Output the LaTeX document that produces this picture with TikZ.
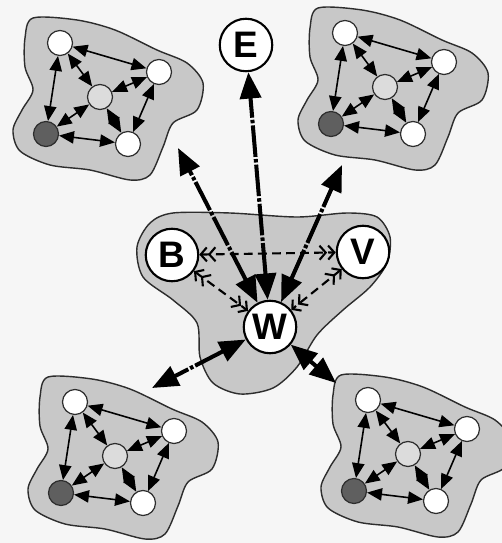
\documentclass[tikz,border=0pt]{standalone}
\usepackage{fontspec}
\setsansfont{Liberation Sans}
\usetikzlibrary{arrows.meta}
\definecolor{paper}{RGB}{246,246,246}
\definecolor{blobgray}{RGB}{200,200,200}
\definecolor{hubgray}{RGB}{220,220,220}
\definecolor{homegray}{RGB}{95,95,95}
\definecolor{inkgray}{RGB}{45,45,45}
\tikzset{
  blob/.style={draw=inkgray, fill=blobgray, line width=0.8pt},
  site/.style={circle, draw=inkgray, fill=white, line width=0.7pt, minimum size=0.5cm, inner sep=0pt},
  hubsite/.style={site, fill=hubgray},
  homesite/.style={site, fill=homegray},
  agent/.style={circle, draw=black, fill=white, line width=1.2pt, minimum size=1.05cm, inner sep=0pt,
    font=\fontsize{21}{21}\selectfont\sffamily\bfseries},
  link/.style={{Triangle[length=8.5pt,width=7pt]}-{Triangle[length=8.5pt,width=7pt]}, line width=0.9pt},
  bigcall/.style={{Triangle[length=15pt,width=12pt]}-{Triangle[length=15pt,width=12pt]}, line width=2.3pt,
    dash pattern=on 18pt off 1.2pt on 2pt off 1.2pt},
  peer/.style={{Straight Barb[length=3.5pt,width=8pt] Straight Barb[length=3.5pt,width=8pt]}-{Straight Barb[length=3.5pt,width=8pt] Straight Barb[length=3.5pt,width=8pt]},
    line width=1.2pt, dash pattern=on 5pt off 3pt}
}
\begin{document}
\begin{tikzpicture}[x=0.02cm, y=-0.02cm]
  \fill[paper] (0,0) rectangle (502,543);
  \useasboundingbox (0,0) rectangle (502,543);

  % the four outer clusters
  \foreach \n/\x/\y/\px/\py in {a/60/43/118/105, b/345/33/-3/132, c/75/402/77/-14, d/368/400/-32/-17} {
    \begin{scope}[shift={(\x,\y)}]
      \draw[blob] plot[smooth cycle] coordinates {(-27,-25) (17,-23) (55,-13) (97,7) (127,20) (143,40) (137,67)
        (113,80) (103,104) (90,132) (70,137) (30,127) (-10,122) (-40,108) (-47,87) (-38,67) (-27,47) (-35,24) (-35,-5)};
      \node[site] (\n-top) at (0,0) {};
      \node[site] (\n-right) at (99,29) {};
      \node[hubsite] (\n-hub) at (40,54) {};
      \node[homesite] (\n-home) at (-14,91) {};
      \node[site] (\n-low) at (68,101) {};
      \coordinate (\n-port) at (\px,\py);
    \end{scope}
    \foreach \s/\t in {top/right, top/hub, top/home, right/hub, right/low, hub/home, hub/low, home/low}
      \draw[link] (\n-\s) -- (\n-\t);
  }

  % central group
  \draw[blob] plot[smooth cycle] coordinates {(137,247) (150,223) (173,213) (230,213) (297,217) (347,213) (377,217)
    (390,237) (387,263) (370,287) (343,310) (317,335) (297,367) (273,388) (240,394) (213,383) (200,357)
    (197,323) (173,300) (143,277)};
  \node[agent] (B) at (172,255) {B};
  \node[agent] (V) at (363,252) {V};
  \node[agent] (W) at (270,327) {W};
  \node[agent] (E) at (246,45) {E};

  \draw[peer] (B) -- (V);
  \draw[peer] (B) -- (W);
  \draw[peer] (V) -- (W);

  \draw[bigcall] (W) -- (E);
  \foreach \n in {a, b, c, d}
    \draw[bigcall] (W) -- (\n-port);
\end{tikzpicture}
\end{document}
